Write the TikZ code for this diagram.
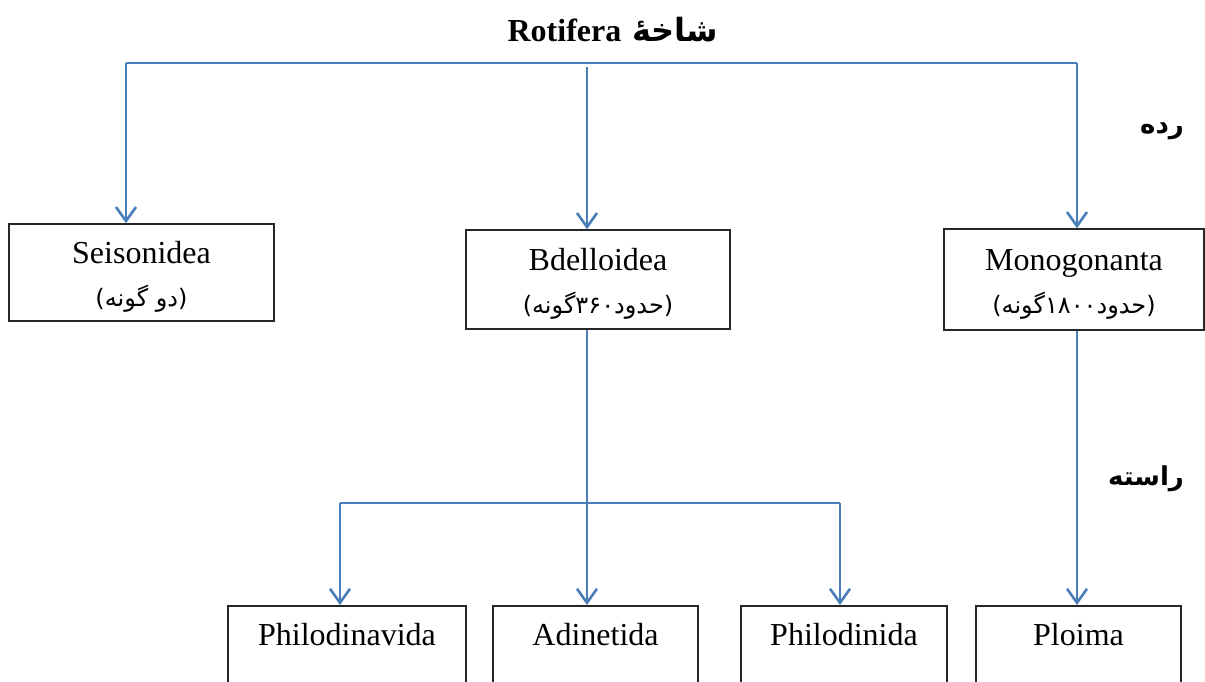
\documentclass[tikz,border=0pt]{standalone}
\usepackage{fontspec}
\setmainfont{Liberation Serif}
\newfontfamily\arabicfont[Script=Arabic]{DejaVu Sans}
\TeXXeTstate=1
\usetikzlibrary{arrows.meta}
\definecolor{linkblue}{RGB}{74,126,187}

\tikzset{
    box/.style={draw=black!85, line width=0.75pt, rectangle, align=center,
        font=\fontsize{16}{20}\selectfont, inner sep=0pt},
    topbox/.style={box, anchor=north, inner ysep=4pt, text height=16pt, text depth=44pt},
    link/.style={draw=linkblue, line width=1.3pt},
    tip/.style={-{Straight Barb[length=7pt, width=10pt, line width=1.3pt]}},
    ranklab/.style={font=\fontsize{13}{15}\arabicfont\bfseries}
}
% second line of a class box
\newcommand{\farsiline}[1]{{\fontsize{12}{14}\arabicfont\beginR#1\endR}}

\begin{document}
\begin{tikzpicture}[x=0.5pt, y=-0.5pt]
        % page frame (pixel grid of the figure)
        \useasboundingbox (0,0) rectangle (1205,681);
        \clip (0,0) rectangle (1205,681);

        % phylum title
        \node[font=\fontsize{16}{20}\selectfont\bfseries] (title) at (613,30)
            {\arabicfont\beginR شاخهٔ \beginL\rmfamily Rotifera\endL\endR};

        % rank labels on the right
        \node[ranklab] (classlab) at (1162,131) {\beginR رده\endR};
        \node[ranklab] (orderlab) at (1146,479) {\beginR راسته\endR};

        % classes
        \node[box, minimum width=132.5pt, minimum height=48.5pt] (seis) at (141.5,272.5)
            {\rule{0pt}{15.5pt}Seisonidea\\[1.5pt]\farsiline{(دو گونه)}};
        \node[box, minimum width=132pt, minimum height=49.5pt] (bdel) at (598,279.5)
            {\rule{0pt}{15.5pt}Bdelloidea\\[1.5pt]\farsiline{(حدود۳۶۰گونه)}};
        \node[box, minimum width=130pt, minimum height=50.5pt] (mono) at (1074,279.5)
            {\rule{0pt}{15.5pt}Monogonanta\\[1.5pt]\farsiline{(حدود۱۸۰۰گونه)}};

        % orders (cut by the lower edge)
        \node[topbox, minimum width=119pt] (phva) at (347,605) {Philodinavida};
        \node[topbox, minimum width=102.5pt] (adin) at (595.5,605) {Adinetida};
        \node[topbox, minimum width=103pt] (phni) at (844,605) {Philodinida};
        \node[topbox, minimum width=102.5pt] (ploi) at (1078.5,605) {Ploima};

        % branching points
        \coordinate (barL) at (126,63);
        \coordinate (barR) at (1077,63);
        \coordinate (barM) at (587,67);
        \coordinate (subL) at (340,503);
        \coordinate (subR) at (840,503);

        % phylum -> classes
        \draw[link] (barL) -- (barR);
        \draw[link, tip] (barL) -- (seis.north -| barL);
        \draw[link, tip] (barM) -- (bdel.north -| barM);
        \draw[link, tip] (barR) -- (mono.north -| barR);

        % classes -> orders
        \draw[link, tip] (bdel.south -| barM) -- (adin.north -| barM);
        \draw[link] (subL) -- (subR);
        \foreach \c/\n in {subL/phva, subR/phni} {
            \draw[link, tip] (\c) -- (\n.north -| \c);
        }
        \draw[link, tip] (mono.south -| barR) -- (ploi.north -| barR);

    \end{tikzpicture}
\end{document}
